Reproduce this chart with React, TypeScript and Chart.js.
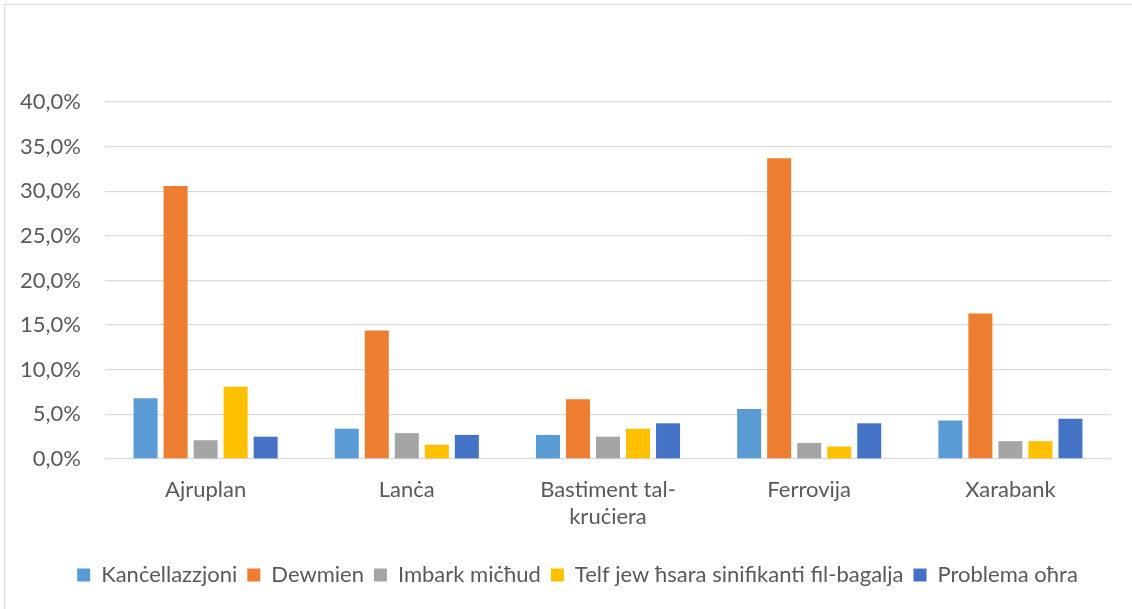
import React, { useEffect, useRef } from "react";
import { Chart, registerables } from "chart.js";

Chart.register(...registerables);

const categories: (string | string[])[] = [
  "Ajruplan",
  "Lanċa",
  ["Bastiment tal-", "kruċiera"],
  "Ferrovija",
  "Xarabank",
];

const seriesNames = [
  "Kanċellazzjoni",
  "Dewmien",
  "Imbark miċħud",
  "Telf jew ħsara sinifikanti fil-bagalja",
  "Problema oħra",
];

const kancellazzjoni = [6.8, 3.4, 2.7, 5.6, 4.3];
const dewmien = [30.6, 14.4, 6.7, 33.7, 16.3];
const imbark = [2.1, 2.9, 2.5, 1.8, 2.0];
const telf = [8.1, 1.6, 3.4, 1.4, 2.0];
const problema = [2.5, 2.7, 4.0, 4.0, 4.5];

const seriesColors = ["#5B9BD5", "#ED7D31", "#A5A5A5", "#FFC000", "#4472C4"];

const yMin = 0;
const yMax = 40;
const yStep = 5;

const FONT = "Lato, 'Open Sans', sans-serif";
const TEXT = "#595959";

const legendShift = {
  id: "legendShift",
  afterUpdate(chart: any) {
    const l = chart.legend;
    if (l) {
      l.left += 22;
      l.right += 22;
    }
  },
};

export default function App() {
  const ref = useRef<HTMLCanvasElement | null>(null);

  useEffect(() => {
    document.body.style.margin = "0";
    const values = [kancellazzjoni, dewmien, imbark, telf, problema];
    const chart = new Chart(ref.current as HTMLCanvasElement, {
      type: "bar",
      data: {
        labels: categories,
        datasets: values.map((v, i) => ({
          label: seriesNames[i],
          data: v,
          backgroundColor: seriesColors[i],
          borderWidth: 0,
          categoryPercentage: 0.746,
          barPercentage: 0.8,
        })),
      },
      plugins: [legendShift],
      options: {
        animation: false,
        responsive: false,
        maintainAspectRatio: false,
        layout: { padding: { left: 0, right: 21, top: 102, bottom: 13 } },
        plugins: {
          tooltip: { enabled: false },
          legend: {
            position: "bottom",
            labels: {
              boxWidth: 13,
              boxHeight: 13,
              padding: 10,
              color: TEXT,
              font: { family: FONT, size: 22 },
            },
          },
        },
        scales: {
          x: {
            grid: { display: false, drawTicks: false },
            border: { display: false },
            ticks: {
              color: TEXT,
              padding: 17,
              maxRotation: 0,
              autoSkip: false,
              font: { family: FONT, size: 22, lineHeight: 1.24 },
            },
            afterFit: (s: any) => {
              s.height = 95;
            },
          },
          y: {
            min: yMin,
            max: yMax,
            grid: { color: "#d9d9d9", lineWidth: 1.3, drawTicks: false },
            border: { display: false },
            ticks: {
              stepSize: yStep,
              color: TEXT,
              padding: 24,
              font: { family: FONT, size: 22 },
              callback: (v: any) => Number(v).toFixed(1).replace(".", ",") + "%",
            },
            afterFit: (s: any) => {
              s.width = 105;
            },
          },
        },
      },
    });
    return () => chart.destroy();
  }, []);

  return (
    <div style={{ position: "absolute", left: 0, top: 0, width: 1132, height: 609, background: "#fff" }}>
      <div
        style={{
          position: "absolute",
          left: 4,
          top: 4,
          right: 0,
          bottom: 0,
          borderLeft: "1.5px solid #d9d9d9",
          borderTop: "1.5px solid #d9d9d9",
        }}
      />
      <canvas ref={ref} width={1132} height={609} style={{ position: "absolute", left: 0, top: 0 }} />
    </div>
  );
}
